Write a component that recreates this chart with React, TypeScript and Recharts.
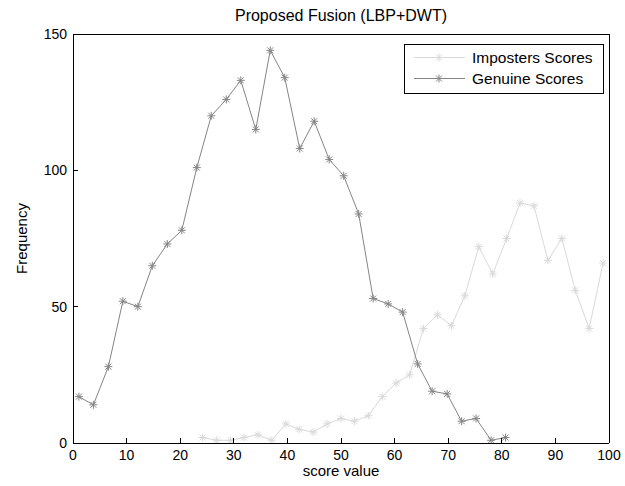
import React from "react";
import { LineChart, Line, XAxis, YAxis, Legend } from "recharts";

const genuineX = [1.1, 3.8, 6.6, 9.3, 12.1, 14.8, 17.6, 20.3, 23.1, 25.8, 28.6, 31.3, 34.1, 36.8, 39.5, 42.3, 45.0, 47.8, 50.5, 53.3, 56.0, 58.8, 61.5, 64.3, 67.0, 69.8, 72.5, 75.2, 78.0, 80.7];
const genuineY = [17, 14, 28, 52, 50, 65, 73, 78, 101, 120, 126, 133, 115, 144, 134, 108, 118, 104, 98, 84, 53, 51, 48, 29, 19, 18, 8, 9, 1, 2];
const impostersX = [24.2, 26.8, 29.4, 31.9, 34.5, 37.1, 39.7, 42.2, 44.8, 47.4, 50.0, 52.5, 55.1, 57.7, 60.3, 62.8, 65.4, 68.0, 70.6, 73.1, 75.7, 78.3, 80.9, 83.4, 86.0, 88.6, 91.2, 93.7, 96.3, 98.9];
const impostersY = [2, 1, 1, 2, 3, 1, 7, 5, 4, 7, 9, 8, 10, 17, 22, 25, 42, 47, 43, 54, 72, 62, 75, 88, 87, 67, 75, 56, 42, 66];
const xTicks = [0, 10, 20, 30, 40, 50, 60, 70, 80, 90, 100];
const yTicks = [0, 50, 100, 150];
const seriesNames = ["Imposters Scores", "Genuine Scores"];
const title = "Proposed Fusion (LBP+DWT)";
const xLabel = "score value";
const yLabel = "Frequency";

const genuineData = genuineX.map((x, i) => ({ x, y: genuineY[i] }));
const impostersData = impostersX.map((x, i) => ({ x, y: impostersY[i] }));

const GEN = "#858585";
const IMP = "#d9d9d9";
const FONT = "'Liberation Sans', Arial, sans-serif";
const AXIS = { stroke: "#000", strokeWidth: 1, shapeRendering: "crispEdges" } as any;

const Star = ({ cx, cy, color }: any) => {
  const r = 4;
  const d = 3;
  return (
    <g stroke={color} strokeWidth={1} fill="none">
      <line x1={cx - r} x2={cx + r} y1={cy} y2={cy} />
      <line x1={cx} x2={cx} y1={cy - r} y2={cy + r} />
      <line x1={cx - d} x2={cx + d} y1={cy - d} y2={cy + d} />
      <line x1={cx - d} x2={cx + d} y1={cy + d} y2={cy - d} />
    </g>
  );
};

const BottomTick = ({ x, y, payload }: any) => (
  <g>
    <line x1={x} x2={x} y1={y} y2={y - 5} stroke="#000" shapeRendering="crispEdges" />
    <text x={x} y={y + 17} textAnchor="middle" fontSize={14} fontFamily={FONT} fill="#000">
      {payload.value}
    </text>
  </g>
);
const TopTick = ({ x, y }: any) => (
  <line x1={x} x2={x} y1={y} y2={y + 5} stroke="#000" shapeRendering="crispEdges" />
);
const LeftTick = ({ x, y, payload }: any) => (
  <g>
    <line x1={x} x2={x + 5} y1={y} y2={y} stroke="#000" shapeRendering="crispEdges" />
    <text x={x - 6} y={y + 5} textAnchor="end" fontSize={14} fontFamily={FONT} fill="#000">
      {payload.value}
    </text>
  </g>
);
const RightTick = ({ x, y }: any) => (
  <line x1={x} x2={x - 5} y1={y} y2={y} stroke="#000" shapeRendering="crispEdges" />
);

const LegendBox = () => (
  <svg width={200} height={50} style={{ display: "block" }}>
    <rect x={0.5} y={0.5} width={199} height={49} fill="#fff" stroke="#000" />
    <line x1={10} x2={61} y1={13.5} y2={13.5} stroke={IMP} />
    <Star cx={35} cy={13.5} color={IMP} />
    <text x={68} y={19} fontSize={15.5} fontFamily={FONT} fill="#000">{seriesNames[0]}</text>
    <line x1={10} x2={61} y1={34.5} y2={34.5} stroke={GEN} />
    <Star cx={35} cy={34.5} color={GEN} />
    <text x={68} y={40} fontSize={15.5} fontFamily={FONT} fill="#000">{seriesNames[1]}</text>
  </svg>
);

export default function App() {
  return (
    <div style={{ position: "absolute", left: 0, top: 0, width: 625, height: 486, background: "#fff" }}>
      <LineChart
        width={625}
        height={486}
        margin={{ top: 20, right: 10, bottom: 20, left: 40 }}
        style={{ fontFamily: FONT }}
      >
        <XAxis
          xAxisId={0}
          type="number"
          dataKey="x"
          domain={[0, 100]}
          ticks={xTicks}
          allowDataOverflow
          height={23}
          tickSize={0}
          tickMargin={0}
          tickLine={false}
          axisLine={AXIS}
          tick={<BottomTick />}
          interval={0}
          label={{ value: xLabel, position: "insideBottom", offset: -10, fontSize: 15, fill: "#000", fontFamily: FONT }}
        />
        <XAxis
          xAxisId="top"
          orientation="top"
          type="number"
          domain={[0, 100]}
          ticks={xTicks}
          height={14}
          tickSize={0}
          tickMargin={0}
          tickLine={false}
          axisLine={AXIS}
          tick={<TopTick />}
          interval={0}
          label={{ value: title, position: "insideTop", offset: -10, fontSize: 16, fill: "#000", fontFamily: FONT }}
        />
        <YAxis
          yAxisId={0}
          type="number"
          domain={[0, 150]}
          ticks={yTicks}
          allowDataOverflow
          width={33}
          tickSize={0}
          tickMargin={0}
          tickLine={false}
          axisLine={AXIS}
          tick={<LeftTick />}
          interval={0}
          label={{ value: yLabel, angle: -90, position: "insideLeft", offset: -18, fontSize: 15, fill: "#000", fontFamily: FONT, style: { textAnchor: "middle" } }}
        />
        <YAxis
          yAxisId="right"
          orientation="right"
          type="number"
          domain={[0, 150]}
          ticks={yTicks}
          width={6}
          tickSize={0}
          tickMargin={0}
          tickLine={false}
          axisLine={AXIS}
          tick={<RightTick />}
          interval={0}
        />
        <Legend
          layout="horizontal"
          verticalAlign="middle"
          align="center"
          content={() => <LegendBox />}
          wrapperStyle={{ position: "absolute", left: 404, top: 44, width: 200, height: 50 }}
        />
        <Line
          data={impostersData}
          dataKey="y"
          xAxisId={0}
          yAxisId={0}
          name={seriesNames[0]}
          stroke={IMP}
          strokeWidth={1}
          isAnimationActive={false}
          dot={(p: any) => <Star key={`i${p.index}`} cx={p.cx} cy={p.cy} color={IMP} />}
          activeDot={false}
        />
        <Line
          data={genuineData}
          dataKey="y"
          xAxisId={0}
          yAxisId={0}
          name={seriesNames[1]}
          stroke={GEN}
          strokeWidth={1}
          isAnimationActive={false}
          dot={(p: any) => <Star key={`g${p.index}`} cx={p.cx} cy={p.cy} color={GEN} />}
          activeDot={false}
        />
      </LineChart>
    </div>
  );
}
